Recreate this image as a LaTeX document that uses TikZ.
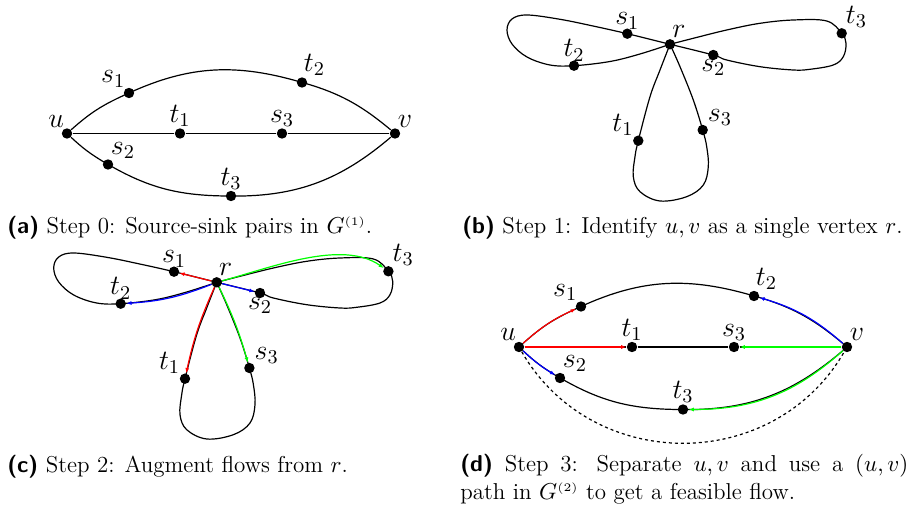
\RequirePackage{fix-cm}
\documentclass[tikz,border=0pt]{standalone}
\usepackage{tikz}
\usetikzlibrary{arrows.meta}

\tikzset{
  vtx/.style={circle,fill=black,inner sep=0pt,minimum size=5.2pt},
  lbl/.style={font=\fontsize{14}{16}\selectfont,inner sep=0.3pt},
  wire/.style={line width=0.6pt},
  flow/.style={line width=0.6pt,-{Latex[length=2.6pt,width=2pt]}},
  captxt/.style={font=\fontsize{11.5}{14}\selectfont,inner sep=0pt,anchor=base west},
}

\begin{document}
\begin{tikzpicture}[x=0.5pt,y=-0.5pt]
  \useasboundingbox (0,0) rectangle (911,507);

  % G^(1): u and v joined by three paths
  \def\lens{
    \node[vtx,label={[lbl]110:$u$}] (u) at (67,133.5) {};
    \node[vtx,label={[lbl]70:$v$}] (v) at (395,133.5) {};
    \node[vtx,label={[lbl]above:$t_1$}] (t1) at (180,133.5) {};
    \node[vtx,label={[lbl]above:$s_3$}] (s3) at (282,133.5) {};
    \node[vtx,label={[lbl]120:$s_1$}] (s1) at (129,93) {};
    \node[vtx,label={[lbl]80:$t_2$}] (t2) at (302,82.5) {};
    \node[vtx,label={[lbl]70:$s_2$}] (s2) at (108,164.5) {};
    \node[vtx,label={[lbl]above:$t_3$}] (t3) at (231,196) {};
    \draw[wire] (u) to[bend left=8.6] (s1) to[bend left=20.5] (t2) to[bend left=12.4] (v);
    \draw[wire] (u) -- (t1) -- (s3) -- (v);
    \draw[wire] (u) to[bend right=5.9] (s2) to[bend right=15] (t3) to[bend right=20.9] (v);
  }

  % u and v merged into r: three loops
  \def\flower{
    \node[vtx,label={[lbl]75:$r$}] (r) at (670,44.3) {};
    \node[vtx,label={[lbl,label distance=-1pt]above:$s_1$}] (s1) at (627.3,33.7) {};
    \node[vtx,label={[lbl,label distance=-1pt]above:$t_2$}] (t2) at (574,65.7) {};
    \node[vtx,label={[lbl,label distance=-1pt]below:$s_2$}] (s2) at (713.3,55) {};
    \node[vtx,label={[lbl]55:$t_3$}] (t3) at (841.7,33.3) {};
    \node[vtx,label={[lbl]135:$t_1$}] (t1) at (638.3,140.7) {};
    \node[vtx,label={[lbl]40:$s_3$}] (s3) at (702.7,130) {};
    \draw[wire] plot[smooth,tension=0.6] coordinates
      {(r.center) (s1.center) (593,26) (560,19.3) (527,15) (512,19) (507,30)
       (512,44) (527,57) (550,65) (t2.center) (610,61.5) (640,54) (r.center)};
    \draw[wire] plot[smooth,tension=0.6] coordinates
      {(r.center) (693.3,38.3) (726.7,30) (760,23.3) (793.3,20) (826.7,21)
       (t3.center) (846,43.3) (843.3,56.7) (833.3,65) (810,69.3) (793.3,70)
       (760,66.7) (726.7,60) (s2.center) (r.center)};
    \draw[wire] plot[smooth,tension=0.6] coordinates
      {(r.center) (660,70) (650,96.7) (t1.center) (635,156.7) (633.3,176.7)
       (640,191.7) (660,201) (686.7,196.7) (703.3,185) (708.3,166.7)
       (706.7,146.7) (s3.center) (693.3,100) (680,66.7) (r.center)};
  }

  % (a)
  \lens
  \node[captxt] (capa) at (7,234)
    {\textsf{\bfseries (a)} Step 0: Source-sink pairs in $G^{\scriptscriptstyle(1)}$.};

  % (b)
  \flower
  \node[captxt] (capb) at (462,234)
    {\textsf{\bfseries (b)} Step 1: Identify $u,v$ as a single vertex $r$.};

  % (c) flows out of r
  \begin{scope}[shift={(-453.3,238)}]
    \flower
    \draw[flow,red] (r) -- (s1);
    \draw[flow,red] (r) to[bend right=6] (t1);
    \draw[flow,blue] (r) to[bend left=9] (t2);
    \draw[flow,blue] (r) -- (s2);
    \draw[flow,green] (r) to[out=15,in=145,looseness=0.8] (t3);
    \draw[flow,green] (r) to[bend left=5] (s3);
  \end{scope}
  \node[captxt] (capc) at (7,473)
    {\textsf{\bfseries (c)} Step 2: Augment flows from $r$.};

  % (d) u, v split again, plus the (u,v) path
  \begin{scope}[shift={(452,213.5)}]
    \lens
    \draw[flow,red] (u) to[bend left=8.6] (s1);
    \draw[flow,red] (u) -- (t1);
    \draw[flow,blue] (u) to[bend right=5.9] (s2);
    \draw[flow,blue] (v) to[bend right=12.4] (t2);
    \draw[flow,green] (v) -- (s3);
    \draw[flow,green] (v) to[bend left=20.9] (t3);
    \draw[wire,dash pattern=on 1.5pt off 1.5pt] (u) to[bend right=60,looseness=1.12] (v);
  \end{scope}
  \node[captxt,text width=224pt,align=justify] (capd) at (460,472)
    {\textsf{\bfseries (d)} Step 3: Separate $u,v$ and use a $(u,v)$\linebreak path in
     $G^{\scriptscriptstyle(2)}$ to get a feasible flow.};
\end{tikzpicture}
\end{document}
